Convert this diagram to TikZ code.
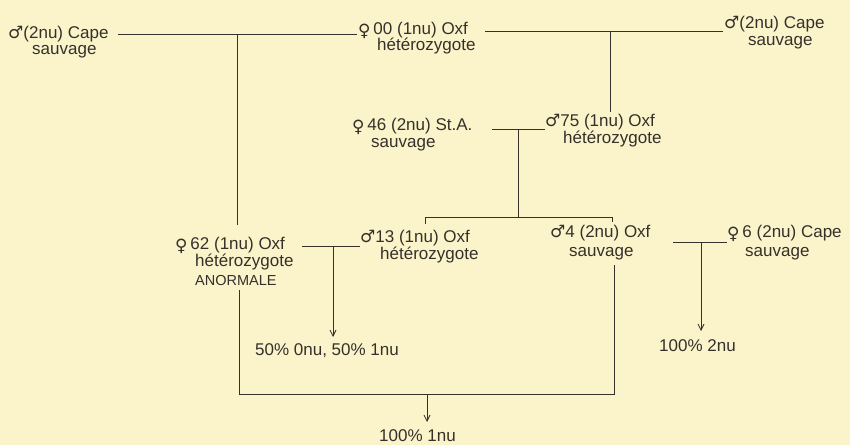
\documentclass[tikz,border=0pt]{standalone}
\usepackage{fontspec}
\setmainfont{Liberation Sans}
\newfontfamily\symfont{DejaVu Sans}
\usetikzlibrary{arrows.meta}
\definecolor{bgcol}{HTML}{FBF4CB}
\definecolor{ink}{HTML}{35302A}
\newcommand{\male}{{\symfont\char"2642}}
\newcommand{\female}{{\symfont\raisebox{-2.5pt}{\char"2640}}}
\begin{document}
\begin{tikzpicture}[x=1pt,y=-1pt,
  lbl/.style={anchor=base west,inner sep=0pt,text=ink,font=\fontsize{17}{19}\selectfont},
  small/.style={lbl,font=\fontsize{14.5}{16}\selectfont},
  wire/.style={draw=ink,line width=0.9pt},
  arr/.style={wire,-{Straight Barb[length=6pt,width=6pt,line width=0.8pt]}}]
\fill[bgcol] (0,0) rectangle (850,445);
\useasboundingbox (0,0) rectangle (850,445);
% labels
\node[lbl] (A1) at (8,38) {\male(2nu) Cape};
\node[lbl] (A2) at (32,54) {sauvage};
\node[lbl] (B1) at (358,34) {\female\,00 (1nu) Oxf};
\node[lbl] (B2) at (377,50) {hétérozygote};
\node[lbl] (C1) at (724,28) {\male(2nu) Cape};
\node[lbl] (C2) at (748,45) {sauvage};
\node[lbl] (D1) at (352,130) {\female\,46 (2nu) St.A.};
\node[lbl] (D2) at (371,147) {sauvage};
\node[lbl] (E1) at (545,126) {\male75 (1nu) Oxf};
\node[lbl] (E2) at (563,143) {hétérozygote};
\node[lbl] (F1) at (175,249) {\female\,62 (1nu) Oxf};
\node[lbl] (F2) at (195,266) {hétérozygote};
\node[small] (F3) at (195,285) {ANORMALE};
\node[lbl] (G1) at (360,242) {\male13 (1nu) Oxf};
\node[lbl] (G2) at (380,259) {hétérozygote};
\node[lbl] (I1) at (550,237) {\male4 (2nu) Oxf};
\node[lbl] (I2) at (569,256) {sauvage};
\node[lbl] (J1) at (727,237) {\female\,6 (2nu) Cape};
\node[lbl] (J2) at (745,256) {sauvage};
\node[lbl] (H) at (255,355) {50\% 0nu, 50\% 1nu};
\node[lbl] (L) at (659,351) {100\% 2nu};
\node[lbl] (K) at (379,441) {100\% 1nu};
% junction coordinates
\coordinate (a) at (118,34);
\coordinate (b) at (357,34);
\coordinate (ab) at (237,34);
\coordinate (abdown) at (237,225);
\coordinate (b2) at (485,31);
\coordinate (c) at (723,31);
\coordinate (bc) at (610,31);
\coordinate (bcdown) at (610,112);
\coordinate (d) at (492,129);
\coordinate (e) at (545,129);
\coordinate (de) at (518,129);
\coordinate (deh) at (518,217);
\coordinate (sl) at (425,217);
\coordinate (sr) at (612,217);
\coordinate (slt) at (425,224);
\coordinate (srt) at (612,222);
\coordinate (f) at (302,246);
\coordinate (g) at (360,246);
\coordinate (fg) at (333,246);
\coordinate (fgend) at (333,337);
\coordinate (i) at (673,242);
\coordinate (j) at (727,242);
\coordinate (ij) at (701,242);
\coordinate (ijend) at (701,331);
\coordinate (fdown) at (239,290);
\coordinate (fbot) at (239,394);
\coordinate (idown) at (614,265);
\coordinate (ibot) at (614,394);
\coordinate (bm) at (427,394);
\coordinate (bmend) at (427,422);
% connectors
\draw[wire] (a) -- (b);
\draw[wire] (ab) -- (abdown);
\draw[wire] (b2) -- (c);
\draw[wire] (bc) -- (bcdown);
\draw[wire] (d) -- (e);
\draw[wire] (de) -- (deh);
\draw[wire] (slt) -- (sl) -- (sr) -- (srt);
\draw[wire] (f) -- (g);
\draw[arr] (fg) -- (fgend);
\draw[wire] (i) -- (j);
\draw[arr] (ij) -- (ijend);
\draw[wire] (fdown) -- (fbot) -- (ibot) -- (idown);
\draw[arr] (bm) -- (bmend);
\end{tikzpicture}
\end{document}
